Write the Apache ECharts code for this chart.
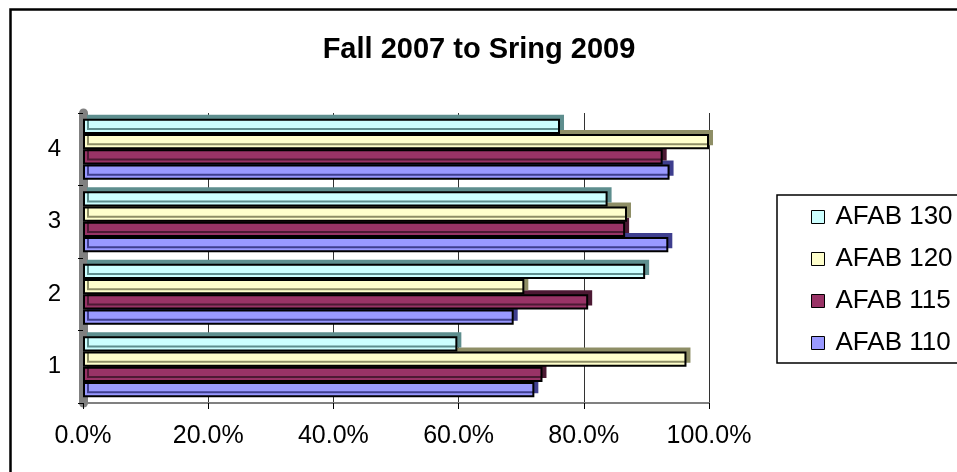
<!DOCTYPE html>
<html>
<head>
<meta charset="utf-8">
<script src="https://cdn.jsdelivr.net/npm/echarts@6/dist/echarts.min.js"></script>
<style>
  html, body { margin: 0; padding: 0; background: #fff; }
  #main { width: 957px; height: 472px; }
</style>
</head>
<body>
<div id="main"></div>
<script>
// data
const categories = ["1", "2", "3", "4"];
const afab110 = [72.1, 68.8, 93.5, 93.7];
const afab115 = [73.4, 80.7, 86.6, 92.6];
const afab120 = [96.4, 70.5, 86.9, 100.0];
const afab130 = [59.8, 89.8, 83.8, 76.2];
const xTicks = [0, 20, 40, 60, 80, 100];

const font = "'Liberation Sans', Arial, sans-serif";

const myChart = echarts.init(document.getElementById("main"));

// flat bar with a darker offset shadow to fake the 3D cap;
// upper bars get a higher z so they cover the shadow of the bar below
function barSeries(name, data, color, shade, z) {
  return {
    name: name,
    type: "bar",
    data: data,
    z: z,
    barGap: "0%",
    barCategoryGap: "16%",
    itemStyle: {
      color: color,
      borderColor: "#000",
      borderWidth: 2,
      shadowColor: shade,
      shadowOffsetX: 4,
      shadowOffsetY: -4,
      shadowBlur: 0,
    },
    emphasis: { disabled: true },
  };
}

const option = {
  animation: false,
  textStyle: { fontFamily: font },
  title: {
    text: "Fall 2007 to Sring 2009",
    left: 474,
    top: 30,
    textAlign: "center",
    textStyle: { fontFamily: font, fontSize: 29, fontWeight: "bold", color: "#000" },
  },
  graphic: [
    {
      type: "rect",
      left: 8,
      top: 7,
      shape: { width: 1100, height: 1100 },
      style: { fill: "none", stroke: "#000", lineWidth: 2.5 },
      silent: true,
    },
  ],
  legend: {
    orient: "vertical",
    left: 777,
    top: 195,
    padding: [9, 20, 7, 34],
    itemGap: 16,
    itemWidth: 13,
    itemHeight: 13,
    icon: "rect",
    borderColor: "#000",
    borderWidth: 1.5,
    data: ["AFAB 130", "AFAB 120", "AFAB 115", "AFAB 110"],
    itemStyle: { borderColor: "#000", borderWidth: 1, shadowBlur: 0, shadowColor: "transparent", shadowOffsetX: 0, shadowOffsetY: 0 },
    textStyle: { fontFamily: font, fontSize: 26, color: "#000", lineHeight: 26, padding: [0, 0, 0, 6] },
  },
  grid: {
    left: 83,
    top: 113,
    width: 626,
    height: 290,
  },
  xAxis: {
    type: "value",
    min: xTicks[0],
    max: xTicks[xTicks.length - 1],
    interval: 20,
    axisLine: { show: true, lineStyle: { color: "#808080", width: 2 } },
    axisTick: { show: true, length: 6, lineStyle: { color: "#000" } },
    splitLine: { show: true, lineStyle: { color: "#333", width: 1 } },
    axisLabel: {
      margin: 21,
      fontSize: 25,
      color: "#000",
      fontFamily: font,
      formatter: (v) => v.toFixed(1) + "%",
    },
  },
  yAxis: {
    type: "category",
    data: categories,
    offset: 4,
    axisLine: { show: true, lineStyle: { color: "#808080", width: 9 } },
    axisTick: { show: true, length: 5, lineStyle: { color: "#000" } },
    axisLabel: { margin: 18, fontSize: 24, color: "#000", fontFamily: font },
  },
  series: [
    barSeries("AFAB 130", afab130, "#CCFFFF", "#5E8E8E", 6),
    barSeries("AFAB 120", afab120, "#FFFFCC", "#8E8E66", 5),
    barSeries("AFAB 115", afab115, "#993366", "#4C1933", 4),
    barSeries("AFAB 110", afab110, "#9999FF", "#3E3E8E", 3),
  ],
};

myChart.setOption(option);
</script>
</body>
</html>
